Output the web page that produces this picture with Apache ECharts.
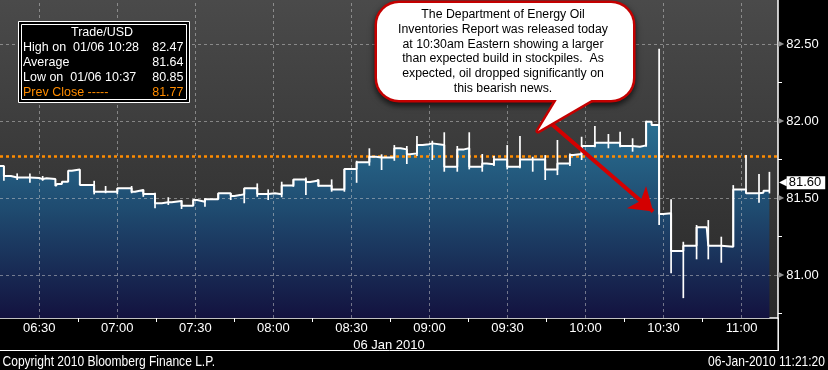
<!DOCTYPE html>
<html><head><meta charset="utf-8">
<script src="https://cdn.jsdelivr.net/npm/echarts@6/dist/echarts.min.js"></script>
<style>html,body{margin:0;padding:0;background:#000;}#c{width:828px;height:370px;}</style>
</head><body><div id="c"></div>
<script>
// bar times in minutes after midnight (06:16.4 -> 376.4)
const barMinutes = [371.6,376.4,379.1,381.5,386.4,390.0,391.3,392.8,396.2,396.9,398.7,401.1,402.5,405.6,411.1,415.5,420.0,425.5,426.8,430.0,
  434.5,437.1,439.6,440.9,444.7,449.2,450.7,453.7,458.8,463.6,465.0,467.2,468.8,473.8,478.0,480.6,483.2,487.7,492.5,494.1,
  496.4,497.3,502.4,507.3,512.0,516.9,519.5,521.6,526.5,528.9,531.3,532.5,535.2,537.4,539.8,541.1,545.7,550.7,553.3,555.3,
  560.3,562.0,564.8,569.9,574.8,579.7,584.5,589.2,594.0,595.3,598.5,603.6,608.8,613.3,618.1,620.9,623.3,625.4,628.3,629.9,
  632.9,637.6,642.7,646.6,647.2,652.2,656.8,661.7,666.7,668.4,670.7];
const barCloses = [81.708,81.643,81.634,81.634,81.630,81.623,81.628,81.623,81.578,81.591,81.606,81.677,81.686,81.584,81.541,81.541,81.563,81.541,81.552,81.526,
  81.466,81.472,81.472,81.481,81.450,81.487,81.476,81.492,81.531,81.513,81.519,81.524,81.563,81.526,81.531,81.524,81.582,81.621,81.604,81.610,
  81.617,81.580,81.556,81.688,81.732,81.768,81.764,81.764,81.823,81.816,81.784,81.790,81.844,81.849,81.855,81.844,81.703,81.816,81.823,81.703,
  81.725,81.719,81.751,81.703,81.751,81.751,81.686,81.725,81.779,81.786,81.838,81.859,81.859,81.838,81.833,81.842,81.995,81.974,81.396,81.401,
  81.156,81.190,81.310,81.314,81.190,81.184,81.556,81.531,81.534,81.547,81.547];
const barHighs = [null,81.708,null,81.660,81.660,null,81.643,null,null,null,null,null,null,null,81.612,81.578,81.563,81.578,null,81.556,
  81.534,null,81.505,null,81.487,81.492,null,81.498,81.531,81.531,null,null,81.563,81.595,81.556,null,81.606,81.621,81.634,null,
  null,81.621,81.621,81.688,81.742,81.823,null,81.784,81.844,null,81.838,null,81.903,null,null,81.872,81.927,81.838,null,81.927,
  81.786,null,81.773,81.844,81.903,81.768,81.779,81.877,81.790,null,81.898,81.968,81.916,81.931,81.888,null,82.002,null,82.47,null,
  81.492,81.216,81.325,null,81.357,81.249,81.584,81.779,81.656,null,81.67];
const barLows = [null,81.612,null,81.617,81.599,null,81.612,null,null,null,null,null,null,null,81.524,81.531,81.524,81.531,null,81.508,
  81.433,null,81.455,null,81.429,81.450,null,81.444,81.492,81.487,null,null,81.466,81.508,81.487,null,81.505,81.573,81.519,null,
  null,81.573,81.541,81.541,81.599,81.710,null,81.682,81.742,null,81.721,null,81.773,null,null,81.747,81.671,81.671,null,81.686,
  81.671,null,81.708,81.686,81.693,81.671,81.617,81.649,81.708,null,81.747,81.829,81.823,81.829,81.801,null,81.833,null,81.325,null,
  81.011,80.85,81.102,null,81.102,81.080,81.184,81.531,81.469,null,81.53];

const xLabelTimes = ['06:30','07:00','07:30','08:00','08:30','09:00','09:30','10:00','10:30','11:00'];
const xMinorTimes = ['06:45','07:15','07:45','08:15','08:45','09:15','09:45','10:15','10:45'];
const yLabelValues = [81.0, 81.5, 82.0, 82.5];
const yMinorValues = [80.75, 81.25, 81.75, 82.25];
const prevClose = 81.77;
const lastPrice = 81.60;
const dateLabel = '06 Jan 2010';
const legendTitle = 'Trade/USD';
const legendLabels = ['High on  01/06 10:28', 'Average', 'Low on  01/06 10:37', 'Prev Close -----'];
const legendValues = ['82.47', '81.64', '80.85', '81.77'];
const calloutLines = ['The Department of Energy Oil', 'Inventories Report was released today',
  'at 10:30am Eastern showing a larger', 'than expected build in stockpiles.  As',
  'expected, oil dropped significantly on', 'this bearish news.'];
const arrowFrom = [585.6, 82.00];
const arrowTo = [626.0, 81.412];
const copyrightText = 'Copyright 2010 Bloomberg Finance L.P.';
const stampText = '06-Jan-2010 11:21:20';

const xMin = 374.9, xMax = 674.0, yMin = 80.721, yMax = 82.786;
const SANS = "'Liberation Sans',Arial,sans-serif";
const toMin = s => { const p = s.split(':'); return (+p[0]) * 60 + (+p[1]); };
const fmt = m => { const h = Math.floor(m / 60), mm = Math.round(m - h * 60); return String(h).padStart(2, '0') + ':' + String(mm).padStart(2, '0'); };

const closeData = barMinutes.map((t, i) => [t, barCloses[i]]);
const rangeData = barMinutes.map((t, i) => [t, barHighs[i], barLows[i]]).filter(d => d[1] != null);
const gridLine = { color: 'rgba(205,205,205,0.5)', width: 1, type: [3, 3] };
const ORANGE = '#ff8c00';

const legendEls = [
  { type: 'rect', z: 100, shape: { x: 18.5, y: 21.5, width: 171, height: 81 }, style: { fill: '#000', stroke: '#fff', lineWidth: 1 } },
  { type: 'rect', z: 100, shape: { x: 21.5, y: 24.5, width: 165, height: 75 }, style: { fill: 'none', stroke: '#fff', lineWidth: 1 } },
  { type: 'text', z: 101, x: 102, y: 32.5, style: { text: legendTitle, font: '12.5px ' + SANS, fill: '#fff', align: 'center', verticalAlign: 'middle' } }
];
legendLabels.forEach((lab, i) => {
  const col = i === 3 ? ORANGE : '#fff';
  const y = 47.7 + i * 15;
  legendEls.push({ type: 'text', z: 101, x: 23, y: y, style: { text: lab, font: '12.5px ' + SANS, fill: col, align: 'left', verticalAlign: 'middle' } });
  legendEls.push({ type: 'text', z: 101, x: 183.5, y: y, style: { text: legendValues[i], font: '12.5px ' + SANS, fill: col, align: 'right', verticalAlign: 'middle' } });
});

const bubble = { x: 377, y: 3, width: 256, height: 97, r: 22 };
const tail = [[564, 88], [538, 131], [612, 88]];
const calloutEls = [
  { type: 'rect', z: 110, shape: bubble, style: { fill: '#fff', stroke: '#c40000', lineWidth: 5, shadowBlur: 6, shadowColor: 'rgba(0,0,0,0.6)', shadowOffsetY: 3 } },
  { type: 'polygon', z: 110, shape: { points: tail }, style: { fill: '#fff', stroke: '#c40000', lineWidth: 5, lineJoin: 'round' } },
  { type: 'rect', z: 111, shape: bubble, style: { fill: '#fff' } },
  { type: 'polygon', z: 111, shape: { points: tail }, style: { fill: '#fff' } },
  { type: 'text', z: 112, x: 503, y: 7.6, style: { text: calloutLines.join('\n'), font: '12.3px ' + SANS, fill: '#000', align: 'center', verticalAlign: 'top', lineHeight: 14.7 } }
];

const frameEls = [
  { type: 'line', z: 100, shape: { x1: 0, y1: 350.5, x2: 778.5, y2: 350.5 }, style: { stroke: '#fff', lineWidth: 1 } },
  { type: 'line', z: 100, shape: { x1: 778.2, y1: 318, x2: 778.2, y2: 351 }, style: { stroke: '#fff', lineWidth: 1.5 } },
  { type: 'text', z: 100, x: 2.5, y: 361.5, scaleX: 0.83, style: { text: copyrightText, font: '14.5px ' + SANS, fill: '#fff', align: 'left', verticalAlign: 'middle' } },
  { type: 'text', z: 100, x: 825, y: 361.5, scaleX: 0.83, style: { text: stampText, font: '14.5px ' + SANS, fill: '#fff', align: 'right', verticalAlign: 'middle' } }
];

const chart = echarts.init(document.getElementById('c'), null, { renderer: 'canvas' });
chart.setOption({
  backgroundColor: '#000',
  animation: false,
  grid: {
    left: 0, right: 50, top: 0, bottom: 52, containLabel: false, outerBoundsMode: 'none',
    show: true, borderWidth: 0,
    backgroundColor: { type: 'linear', x: 0, y: 0, x2: 0, y2: 1, colorStops: [{ offset: 0, color: '#4a4a4a' }, { offset: 1, color: '#292929' }] }
  },
  xAxis: [{
    type: 'value', min: xMin, max: xMax, position: 'bottom',
    axisLine: { show: true, onZero: false, lineStyle: { color: '#fff', width: 1.5 } },
    axisTick: { show: true, customValues: xMinorTimes.map(toMin), length: 4, lineStyle: { color: '#fff', width: 1 } },
    axisLabel: { show: true, customValues: xLabelTimes.map(toMin), formatter: v => fmt(v), color: '#fff', fontFamily: SANS, fontSize: 13, margin: 3.5 },
    splitLine: { show: false },
    name: dateLabel, nameLocation: 'middle', nameGap: 18,
    nameTextStyle: { color: '#fff', fontFamily: SANS, fontSize: 13 }
  }],
  yAxis: [{
    type: 'value', position: 'right', min: yMin, max: yMax,
    axisLine: { show: true, lineStyle: { color: '#fff', width: 1.5 } },
    axisTick: { show: true, customValues: yMinorValues, length: 4, lineStyle: { color: '#fff', width: 1 } },
    axisLabel: {
      show: true, customValues: yLabelValues, margin: 0,
      formatter: v => '{a|\u25B6}{v|' + v.toFixed(2) + '}',
      rich: {
        a: { color: '#8f8f8f', fontSize: 8, fontFamily: 'DejaVu Sans', padding: [0, 2, 0, 0] },
        v: { color: '#fff', fontSize: 13, fontFamily: SANS }
      }
    },
    splitLine: { show: false }
  }, {
    type: 'value', position: 'right', min: yMin, max: yMax,
    axisLine: { show: false }, axisTick: { show: false }, splitLine: { show: false },
    axisLabel: {
      show: true, customValues: [lastPrice], margin: 1,
      formatter: v => '{a|\u25C0}{b|' + v.toFixed(2) + '}',
      rich: {
        a: { color: '#fff', fontSize: 10, lineHeight: 12, fontFamily: 'DejaVu Sans' },
        b: { color: '#000', backgroundColor: '#fff', fontSize: 13, lineHeight: 12, fontFamily: SANS, padding: [0, 4, 0, 2] }
      }
    }
  }],
  series: [
    {
      name: 'area', type: 'line', step: 'end', data: closeData, symbol: 'none', showSymbol: false, silent: true, z: 1,
      lineStyle: { width: 0, opacity: 0 },
      areaStyle: { opacity: 1, color: new echarts.graphic.LinearGradient(0, 120, 0, 318, [{ offset: 0, color: '#2a7193' }, { offset: 0.45, color: '#1f4b70' }, { offset: 1, color: '#13123f' }], true) }
    },
    {
      name: 'grid', type: 'line', data: [], silent: true, z: 2,
      markLine: {
        z: 2, silent: true, symbol: ['none', 'none'], label: { show: false }, lineStyle: gridLine, emphasis: { disabled: true },
        data: xLabelTimes.map(t => ({ xAxis: toMin(t) })).concat(yLabelValues.map(v => ({ yAxis: v })))
      }
    },
    {
      name: 'prev', type: 'line', data: [], silent: true, z: 3,
      markLine: {
        z: 3, silent: true, symbol: ['none', 'none'], label: { show: false }, emphasis: { disabled: true },
        lineStyle: { color: ORANGE, width: 2.5, type: [3, 3] }, data: [{ yAxis: prevClose }]
      }
    },
    {
      name: 'close', type: 'line', step: 'end', data: closeData, symbol: 'none', showSymbol: false, silent: true, z: 4,
      lineStyle: { color: '#fff', width: 2 }
    },
    {
      name: 'range', type: 'custom', data: rangeData, silent: true, z: 5, encode: { x: 0, y: [1, 2] },
      renderItem: (params, api) => {
        const a = api.coord([api.value(0), api.value(1)]);
        const b = api.coord([api.value(0), api.value(2)]);
        return { type: 'line', shape: { x1: a[0], y1: a[1], x2: b[0], y2: b[1] }, style: { stroke: '#fff', lineWidth: 1.7 } };
      }
    },
    {
      name: 'arrow', type: 'line', data: [], silent: true, z: 6,
      markLine: {
        z: 6, silent: true, symbol: ['none', 'arrow'], symbolSize: 22, label: { show: false }, emphasis: { disabled: true },
        itemStyle: { color: '#d40000' },
        lineStyle: { color: '#d40000', width: 4, type: 'solid', opacity: 1 },
        data: [[{ coord: arrowFrom }, { coord: arrowTo }]]
      }
    }
  ],
  graphic: { elements: legendEls.concat(calloutEls, frameEls) }
});
</script></body></html>
